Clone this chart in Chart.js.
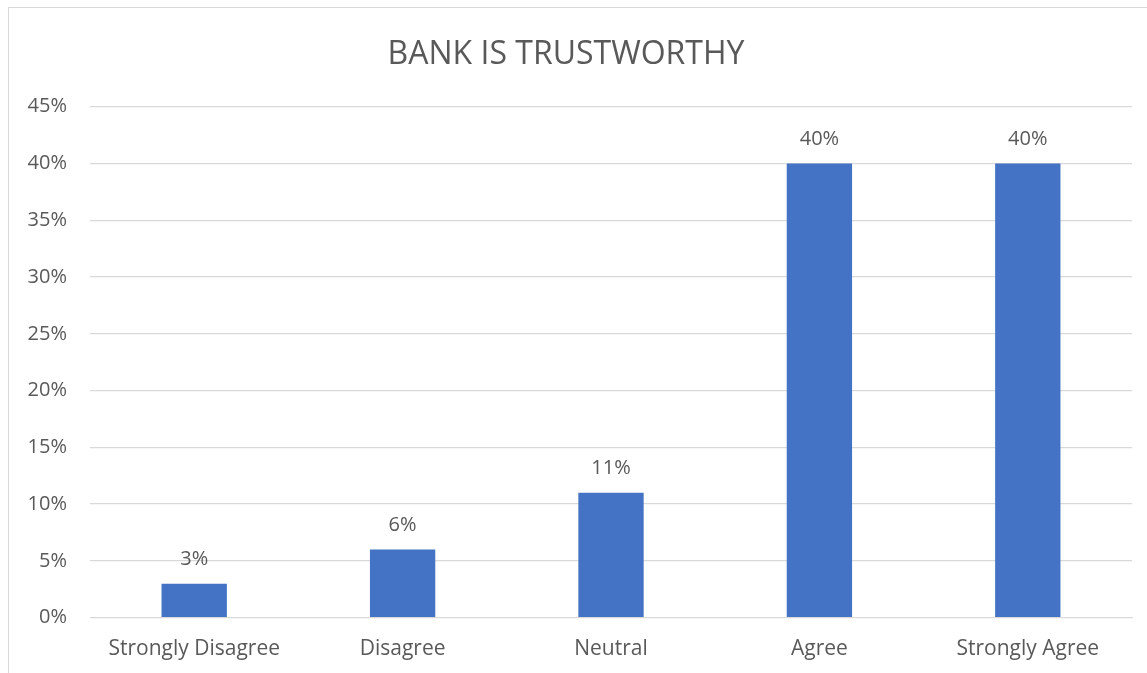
<!DOCTYPE html>
<html>
<head>
<meta charset="utf-8">
<script src="https://cdn.jsdelivr.net/npm/chart.js@4/dist/chart.umd.min.js"></script>
<style>
  html, body { margin: 0; padding: 0; background: #fff; overflow: hidden; }
  #frame {
    position: absolute; left: 8px; top: 7px;
    width: 1200px; height: 720px;
    border: 1px solid #d9d9d9;
  }
  #wrap { position: absolute; left: 0; top: 0; width: 1147px; height: 673px; }
</style>
</head>
<body>
<div id="frame"></div>
<div id="wrap"><canvas id="chart"></canvas></div>
<script>
const categories = ["Strongly Disagree", "Disagree", "Neutral", "Agree", "Strongly Agree"];
const shares = [3, 6, 11, 40, 40];
const chartTitle = "BANK IS TRUSTWORTHY";

const TEXT = "#595959";
const FONT = "'Open Sans', Lato, sans-serif";

// prints each bar's value just above it
const valueLabels = {
  id: "valueLabels",
  afterDatasetsDraw(chart) {
    const { ctx } = chart;
    const meta = chart.getDatasetMeta(0);
    ctx.save();
    ctx.fillStyle = TEXT;
    ctx.font = `20px ${FONT}`;
    ctx.textAlign = "center";
    ctx.textBaseline = "middle";
    meta.data.forEach((bar, i) => {
      ctx.fillText(shares[i] + "%", bar.x, bar.y - 24);
    });
    ctx.restore();
  },
};

new Chart(document.getElementById("chart"), {
  type: "bar",
  data: {
    labels: categories,
    datasets: [
      {
        data: shares,
        backgroundColor: "#4472c4",
        categoryPercentage: 1,
        barPercentage: 0.3135,
      },
    ],
  },
  options: {
    responsive: true,
    maintainAspectRatio: false,
    animation: false,
    layout: { padding: { left: 0, right: 15, top: 0, bottom: 0 } },
    plugins: {
      legend: { display: false },
      tooltip: { enabled: false },
      title: {
        display: true,
        text: chartTitle,
        color: TEXT,
        font: { family: FONT, size: 32, weight: "normal", lineHeight: 1.2 },
        padding: { top: 35.5, bottom: 32.8 },
      },
    },
    scales: {
      x: {
        grid: { display: false, drawTicks: false },
        border: { color: "#d9d9d9" },
        ticks: { color: TEXT, font: { family: FONT, size: 21 }, padding: 18.5, maxRotation: 0 },
        afterFit: (scale) => { scale.height = 55.3; },
      },
      y: {
        min: 0,
        max: 45,
        grid: { color: "#d9d9d9", lineWidth: 1.3, drawTicks: false },
        border: { display: false },
        ticks: {
          stepSize: 5,
          color: TEXT,
          padding: 23,
          font: { family: FONT, size: 20 },
          callback: (v) => v + "%",
        },
        afterFit: (scale) => { scale.width = 90; },
      },
    },
  },
  plugins: [valueLabels],
});
</script>
</body>
</html>
